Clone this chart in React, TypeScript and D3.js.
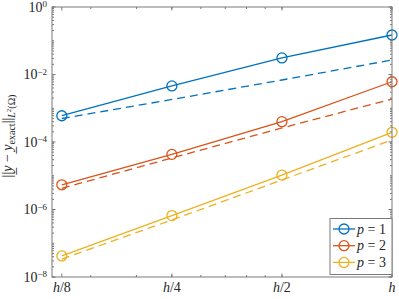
import * as d3 from 'd3';

// step sizes, h = 0.2
const hValues = [0.025, 0.05, 0.1, 0.2];
const hLabels = ['h/8', 'h/4', 'h/2', 'h'];

// errors
const errP1 = [6.0e-4, 4.6e-3, 3.1e-2, 1.48e-1];
const errP2 = [5.4e-6, 4.3e-5, 4.0e-4, 6.1e-3];
const errP3 = [4.2e-8, 6.6e-7, 1.05e-5, 1.94e-4];

// reference slopes (dashed)
const refP1 = [4.97e-4, 1.82e-3, 6.87e-3, 2.69e-2];
const refP2 = [4.25e-6, 3.36e-5, 2.6e-4, 1.88e-3];
const refP3 = [3.4e-8, 4.9e-7, 7.5e-6, 1.15e-4];

const yTickValues = [1e-8, 1e-6, 1e-4, 1e-2, 1];
const yTickExps = ['−8', '−6', '−4', '−2', '0'];

const seriesNames = ['1', '2', '3'];
const colors = ['#0072BD', '#D95319', '#EDB120'];

const W = 399;
const H = 299;
const left = 52;
const right = 392;
const top = 7;
const bottom = 277;
const serif = "'Liberation Serif', 'DejaVu Serif', 'Times New Roman', serif";
const axisColor = '#7a7a7a';
const textStyle = { fontFamily: serif };

export default function App() {
    const x = d3.scaleLog().domain([0.0235, 0.2]).range([left, right]);
    const y = d3.scaleLog().domain([1e-8, 1]).range([bottom, top]);

    const line = d3.line<number>()
        .x((_, i) => x(hValues[i]))
        .y(d => y(d));

    const errs = [errP1, errP2, errP3];
    const refs = [refP1, refP2, refP3];

    const xMinor = x.ticks();
    const yMinor = y.ticks();

    return (
        <svg width={W} height={H} style={{ position: 'absolute', left: 0, top: 0, background: '#fff' }}>
            <rect x={0} y={0} width={W} height={H} fill="#fff" />

            {/* ticks, mirrored on all four sides */}
            <g stroke={axisColor} strokeWidth={1}>
                {xMinor.map((t, i) => (
                    <g key={'xm' + i}>
                        <line x1={x(t)} x2={x(t)} y1={bottom} y2={bottom - 2} />
                        <line x1={x(t)} x2={x(t)} y1={top} y2={top + 2} />
                    </g>
                ))}
                {hValues.map((t, i) => (
                    <g key={'xM' + i}>
                        <line x1={x(t)} x2={x(t)} y1={bottom} y2={bottom - 3.5} />
                        <line x1={x(t)} x2={x(t)} y1={top} y2={top + 3.5} />
                    </g>
                ))}
                {yMinor.map((t, i) => (
                    <g key={'ym' + i}>
                        <line x1={left} x2={left + 2} y1={y(t)} y2={y(t)} />
                        <line x1={right} x2={right - 2} y1={y(t)} y2={y(t)} />
                    </g>
                ))}
                {yTickValues.map((t, i) => (
                    <g key={'yM' + i}>
                        <line x1={left} x2={left + 3.5} y1={y(t)} y2={y(t)} />
                        <line x1={right} x2={right - 3.5} y1={y(t)} y2={y(t)} />
                    </g>
                ))}
            </g>

            {/* series */}
            {refs.map((r, k) => (
                <path key={'ref' + k} d={line(r) || ''} fill="none" stroke={colors[k]}
                    strokeWidth={1.3} strokeDasharray="8,5" />
            ))}
            {errs.map((e, k) => (
                <g key={'err' + k}>
                    <path d={line(e) || ''} fill="none" stroke={colors[k]} strokeWidth={1.3} />
                    {e.map((v, i) => (
                        <circle key={i} cx={x(hValues[i])} cy={y(v)} r={5}
                            fill="none" stroke={colors[k]} strokeWidth={1.3} />
                    ))}
                </g>
            ))}

            {/* axes box */}
            <rect x={left} y={top} width={right - left} height={bottom - top}
                fill="none" stroke={axisColor} strokeWidth={1} />

            {/* tick labels */}
            <g style={textStyle} fontSize={14} fill="#262626">
                {hValues.map((t, i) => {
                    const [h, rest] = hLabels[i].split('/');
                    return (
                        <text key={'xl' + i} x={x(t)} y={292} textAnchor="middle" style={textStyle}>
                            <tspan fontStyle="italic">{h}</tspan>
                            {rest ? '/' + rest : ''}
                        </text>
                    );
                })}
                {yTickValues.map((t, i) => (
                    <text key={'yl' + i} x={47} y={y(t) + 4.5} textAnchor="end" style={textStyle}>
                        10<tspan fontSize={9} dy={-4.5}>{yTickExps[i]}</tspan>
                    </text>
                ))}
            </g>

            {/* y label */}
            <text transform="translate(12,136) rotate(-90)" textAnchor="middle"
                style={textStyle} fontSize={14} fill="#262626">
                ||<tspan fontStyle="italic">{'y\u0332'}</tspan>
                {' − '}
                <tspan fontStyle="italic">{'y\u0332'}</tspan>
                <tspan fontSize={10} dy={3}>exact</tspan>
                <tspan dy={-3}>||</tspan>
                <tspan fontSize={10} dy={3}>
                    <tspan fontStyle="italic">L</tspan>
                    <tspan fontSize={7} dy={-4}>2</tspan>
                    <tspan dy={4}>(Ω)</tspan>
                </tspan>
            </text>

            {/* legend */}
            <g>
                <rect x={330} y={218.5} width={62} height={56} fill="#fff" stroke={axisColor} strokeWidth={1} />
                {seriesNames.map((n, k) => {
                    const ly = 229 + k * 16.7;
                    return (
                        <g key={'lg' + k}>
                            <line x1={333} x2={355} y1={ly} y2={ly} stroke={colors[k]} strokeWidth={1.3} />
                            <circle cx={344} cy={ly} r={5} fill="none" stroke={colors[k]} strokeWidth={1.3} />
                            <text x={357} y={ly + 4.5} style={textStyle} fontSize={14} fill="#262626">
                                <tspan fontStyle="italic">p</tspan>{' = ' + n}
                            </text>
                        </g>
                    );
                })}
            </g>
        </svg>
    );
}
